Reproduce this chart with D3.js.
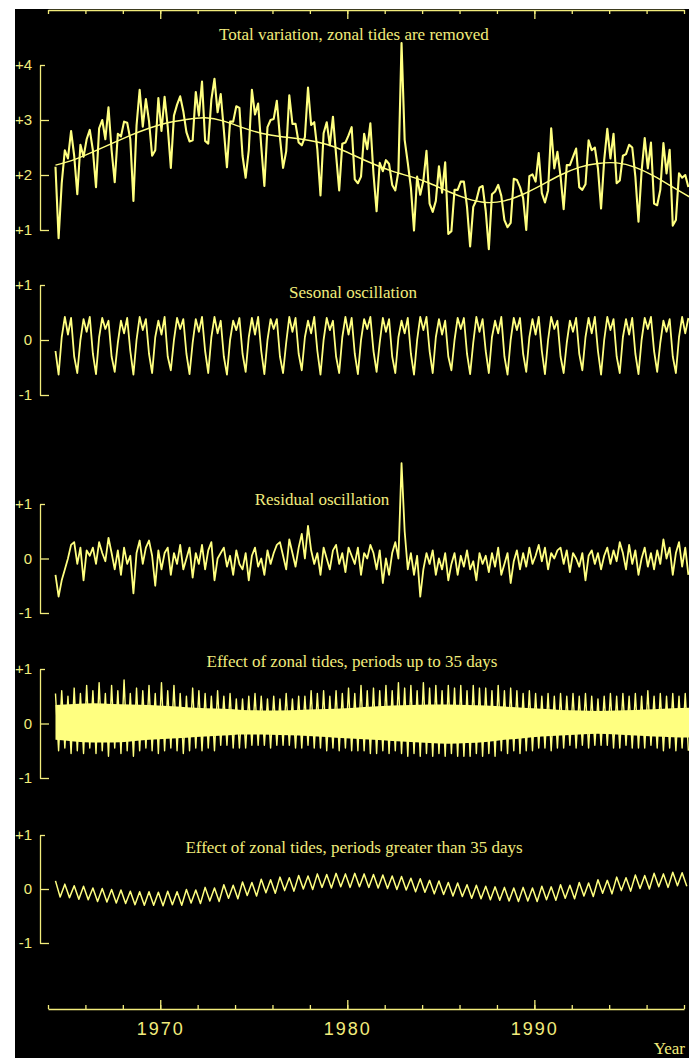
<!DOCTYPE html>
<html>
<head>
<meta charset="utf-8">
<script src="https://cdn.jsdelivr.net/npm/d3@7"></script>
<style>
  body { margin: 0; background: #ffffff; }
</style>
</head>
<body>
<div id="canvas"></div>
<script>
// time base of the sampled series (decimal years)
var startYear = 1964.4;

// x axis ticks
var yearTicks = [1964, 1966, 1968, 1970, 1972, 1974, 1976, 1978, 1980, 1982, 1984, 1986, 1988, 1990, 1992, 1994, 1996, 1998];
var labelledYears = [1970, 1980, 1990];

var panelTitles = [
	"Total variation, zonal tides are removed",
	"Sesonal oscillation",
	"Residual oscillation",
	"Effect of zonal tides, periods up to 35 days",
	"Effect of zonal tides, periods greater than 35 days"
];
var panelTicks = [[1, 2, 3, 4], [-1, 0, 1], [-1, 0, 1], [-1, 0, 1], [-1, 0, 1]];
var panelDomains = [[1, 4], [-1, 1], [-1, 1], [-1, 1], [-1, 1]];

// panel 1, six samples per year
var totalVariation = [
	2.15,0.85,1.85,2.45,2.3,2.8, 2.35,1.65,2.55,2.33,2.65,2.82, 2.45,1.78,2.85,3.0,2.65,3.23,
	2.45,1.87,2.75,2.7,2.97,2.95, 2.65,1.53,2.9,3.55,2.88,3.38, 2.98,2.35,2.45,3.4,2.8,3.42,
	2.88,2.13,3.08,3.28,3.43,3.16, 2.78,2.61,2.63,3.51,3.08,3.7, 2.62,2.57,3.37,3.75,3.14,3.47,
	2.82,2.14,2.97,2.97,3.25,3.22, 2.35,1.95,2.45,3.55,3.1,3.3, 2.52,1.8,2.87,3.0,3.02,3.35,
	2.68,2.13,2.43,3.45,2.93,2.93, 2.59,2.54,2.69,3.59,2.91,2.96, 2.46,1.63,2.76,2.96,2.54,3.06,
	2.37,1.72,2.57,2.59,2.72,2.87, 1.92,1.85,1.97,2.75,2.47,2.94, 2.02,1.34,2.22,2.07,2.27,2.2,
	1.82,1.72,2.07,4.4,2.64,2.22, 1.77,0.99,1.97,1.64,1.9,2.44, 1.48,1.33,1.53,2.16,1.68,2.23,
	0.93,0.98,1.73,1.73,1.88,1.88, 1.42,0.7,1.42,1.54,1.77,1.8, 1.35,0.65,1.65,1.7,1.82,1.62,
	1.18,1.05,1.13,1.93,1.91,1.78, 1.58,1.0,1.98,2.01,1.88,2.4, 1.67,1.5,1.72,2.85,2.12,2.42,
	1.98,1.38,2.18,2.18,2.33,2.48, 1.78,1.73,1.83,2.63,2.45,2.5, 2.12,1.39,2.27,2.84,2.3,2.75,
	1.85,1.9,2.35,2.38,2.55,2.5, 1.97,1.15,2.07,2.67,2.12,2.59, 1.48,1.45,1.73,2.58,2.03,2.46,
	1.08,1.18,2.03,1.95,2.0,1.78
];

// panel 1 smooth trend, one value per year
var smoothTrend = [
	2.18, 2.28, 2.42, 2.57, 2.72, 2.85, 2.95, 3.01, 3.04, 2.98, 2.86, 2.76, 2.7, 2.66, 2.6, 2.5, 2.35, 2.2,
	2.07, 1.97, 1.85, 1.7, 1.57, 1.5, 1.53, 1.65, 1.82, 2.0, 2.14, 2.21, 2.22, 2.14, 1.98, 1.78, 1.58
];

// panel 2, six samples per year
var seasonal = [
	-0.2,-0.63,0.05,0.42,0.1,0.4, -0.3,-0.6,0.0,0.38,0.15,0.42, -0.25,-0.62,0.05,0.4,0.2,0.35,
	-0.3,-0.58,-0.05,0.35,0.12,0.4, -0.2,-0.63,0.0,0.42,0.18,0.38, -0.25,-0.6,0.05,0.35,0.1,0.42,
	-0.3,-0.55,0.0,0.4,0.2,0.38, -0.25,-0.62,-0.05,0.38,0.15,0.42, -0.2,-0.6,0.05,0.42,0.12,0.35,
	-0.3,-0.63,0.0,0.35,0.18,0.4, -0.25,-0.58,0.05,0.4,0.1,0.42, -0.2,-0.62,0.0,0.38,0.2,0.38,
	-0.3,-0.6,-0.05,0.42,0.15,0.4, -0.25,-0.55,0.05,0.35,0.12,0.42, -0.2,-0.63,0.0,0.4,0.18,0.35,
	-0.3,-0.6,0.05,0.42,0.1,0.4, -0.25,-0.62,0.0,0.38,0.2,0.42, -0.2,-0.58,-0.05,0.4,0.15,0.38,
	-0.3,-0.6,0.05,0.35,0.12,0.4, -0.25,-0.63,0.0,0.42,0.18,0.42, -0.2,-0.6,0.05,0.38,0.1,0.35,
	-0.3,-0.55,0.0,0.4,0.2,0.4, -0.25,-0.62,-0.05,0.42,0.15,0.38, -0.2,-0.6,0.05,0.35,0.12,0.42,
	-0.3,-0.63,0.0,0.4,0.18,0.4, -0.25,-0.58,0.05,0.38,0.1,0.42, -0.2,-0.62,0.0,0.42,0.2,0.35,
	-0.3,-0.6,-0.05,0.35,0.15,0.4, -0.25,-0.55,0.05,0.4,0.12,0.42, -0.2,-0.63,0.0,0.42,0.18,0.38,
	-0.3,-0.6,0.05,0.38,0.1,0.4, -0.25,-0.62,0.0,0.4,0.2,0.42, -0.2,-0.58,-0.05,0.35,0.15,0.38,
	-0.3,-0.6,0.05,0.42,0.12,0.4
];

// panel 3, six samples per year
var residual = [
	-0.3,-0.7,-0.4,-0.2,0.0,0.25, 0.3,-0.1,0.2,-0.4,0.15,0.05, 0.2,-0.1,0.3,0.1,-0.05,0.38,
	0.1,-0.2,0.15,-0.3,0.2,-0.1, 0.05,-0.64,0.1,0.33,-0.1,0.2, 0.33,0.05,-0.5,0.15,-0.2,0.1,
	0.2,-0.3,0.1,-0.1,0.25,-0.2, 0.0,0.2,-0.35,0.1,-0.1,0.25, -0.2,0.15,0.3,-0.4,0.0,0.1,
	0.2,-0.15,0.05,-0.3,0.15,-0.1, -0.2,0.1,-0.4,0.05,0.2,-0.15, 0.0,-0.3,0.15,-0.1,0.1,0.25,
	0.3,0.05,-0.2,0.35,0.1,-0.15, 0.2,0.45,0.0,0.6,0.15,-0.1, 0.1,-0.3,0.2,0.0,-0.2,0.15,
	0.25,-0.1,0.1,-0.25,0.2,0.05, -0.1,0.2,-0.3,0.1,0.0,0.25, 0.1,-0.2,0.15,-0.45,0.0,-0.3,
	0.1,0.3,0.0,1.75,0.5,-0.2, 0.1,-0.3,0.05,-0.7,-0.2,0.1, -0.1,0.15,-0.3,0.0,-0.2,0.1,
	-0.4,-0.1,0.1,-0.3,0.05,-0.15, 0.15,-0.2,-0.05,-0.4,0.1,-0.1, 0.05,-0.25,0.1,-0.15,0.2,-0.3,
	-0.1,0.1,-0.45,-0.05,0.15,-0.2, 0.1,-0.15,0.2,-0.1,0.05,0.25, -0.05,0.2,-0.2,0.1,0.0,0.15,
	0.2,-0.1,0.15,-0.25,0.1,0.0, -0.15,0.1,-0.4,0.05,0.15,-0.1, 0.1,-0.2,0.05,0.2,-0.1,0.15,
	-0.05,0.3,0.1,-0.2,0.25,-0.1, 0.15,-0.3,0.0,0.2,-0.15,0.1, -0.2,0.15,-0.1,0.35,0.0,0.2,
	-0.3,0.1,0.3,-0.15,0.2,-0.3
];

// panel 4: dense core of the short period tides (one value per year) and its spikes (six per year)
var tideCoreUpper = [
	0.34, 0.36, 0.37, 0.36, 0.35, 0.34, 0.32, 0.3, 0.28, 0.27, 0.25, 0.24, 0.24, 0.25, 0.26, 0.27, 0.29, 0.31,
	0.33, 0.34, 0.35, 0.35, 0.34, 0.33, 0.31, 0.29, 0.27, 0.25, 0.24, 0.23, 0.24, 0.25, 0.26, 0.28, 0.29
];
var tideCoreLower = [
	-0.3, -0.33, -0.35, -0.35, -0.33, -0.3, -0.28, -0.26, -0.24, -0.22, -0.2, -0.2, -0.21, -0.22, -0.24, -0.26, -0.28, -0.3,
	-0.32, -0.34, -0.36, -0.37, -0.36, -0.34, -0.3, -0.27, -0.24, -0.22, -0.2, -0.19, -0.2, -0.22, -0.24, -0.25, -0.26
];
var shortTides = [
	0.55,-0.5,0.6,-0.45,0.5,-0.55, 0.65,-0.5,0.55,-0.55,0.7,-0.45, 0.6,-0.55,0.75,-0.5,0.55,-0.6,
	0.7,-0.45,0.6,-0.55,0.8,-0.5, 0.55,-0.6,0.65,-0.5,0.6,-0.45, 0.7,-0.5,0.55,-0.55,0.75,-0.5,
	0.6,-0.45,0.7,-0.5,0.55,-0.55, 0.5,-0.5,0.65,-0.45,0.6,-0.5, 0.55,-0.45,0.5,-0.5,0.6,-0.4,
	0.5,-0.4,0.55,-0.45,0.45,-0.45, 0.45,-0.45,0.5,-0.4,0.55,-0.4, 0.5,-0.4,0.45,-0.45,0.5,-0.4,
	0.45,-0.4,0.55,-0.4,0.45,-0.45, 0.5,-0.45,0.5,-0.4,0.6,-0.45, 0.55,-0.45,0.6,-0.5,0.5,-0.45,
	0.6,-0.5,0.55,-0.45,0.65,-0.5, 0.55,-0.5,0.7,-0.5,0.6,-0.55, 0.65,-0.55,0.6,-0.5,0.7,-0.55,
	0.6,-0.5,0.75,-0.55,0.65,-0.6, 0.7,-0.55,0.6,-0.6,0.75,-0.55, 0.65,-0.6,0.7,-0.55,0.6,-0.6,
	0.7,-0.55,0.65,-0.6,0.7,-0.6, 0.6,-0.6,0.7,-0.55,0.65,-0.6, 0.65,-0.55,0.6,-0.6,0.7,-0.5,
	0.6,-0.55,0.65,-0.5,0.6,-0.55, 0.55,-0.5,0.6,-0.5,0.55,-0.45, 0.5,-0.45,0.55,-0.5,0.5,-0.45,
	0.55,-0.45,0.5,-0.4,0.55,-0.45, 0.5,-0.4,0.55,-0.45,0.5,-0.4, 0.45,-0.4,0.5,-0.4,0.55,-0.45,
	0.5,-0.45,0.55,-0.4,0.5,-0.45, 0.55,-0.45,0.5,-0.45,0.6,-0.4, 0.5,-0.45,0.55,-0.5,0.5,-0.45,
	0.55,-0.5,0.5,-0.45,0.55,-0.5
];

// panel 5, four samples per year (peaks and troughs)
var longTides = [
	0.15,-0.15,0.09,-0.16, 0.06,-0.19,0.05,-0.2, 0.02,-0.23,0.01,-0.24, -0.01,-0.26,-0.02,-0.27,
	-0.04,-0.29,-0.05,-0.3, -0.05,-0.3,-0.06,-0.31, -0.04,-0.29,-0.05,-0.3, -0.01,-0.26,-0.02,-0.27,
	0.03,-0.22,0.02,-0.23, 0.08,-0.17,0.07,-0.18, 0.13,-0.12,0.12,-0.13, 0.18,-0.07,0.17,-0.08,
	0.22,-0.03,0.21,-0.04, 0.25,0.0,0.24,-0.01, 0.28,0.03,0.27,0.02, 0.29,0.04,0.28,0.03,
	0.29,0.04,0.28,0.03, 0.27,0.02,0.26,0.01, 0.24,-0.01,0.23,-0.02, 0.2,-0.05,0.19,-0.06,
	0.16,-0.09,0.15,-0.1, 0.12,-0.13,0.11,-0.14, 0.08,-0.17,0.07,-0.18, 0.05,-0.2,0.04,-0.21,
	0.03,-0.22,0.02,-0.23, 0.03,-0.22,0.02,-0.23, 0.05,-0.2,0.04,-0.21, 0.08,-0.17,0.07,-0.18,
	0.12,-0.13,0.11,-0.14, 0.17,-0.08,0.16,-0.09, 0.22,-0.03,0.21,-0.04, 0.26,0.01,0.25,0.0,
	0.29,0.04,0.28,0.03, 0.31,0.06,0.3,0.05
];

// layout
var width = 689, height = 1058;
var lineColor = "#ffff80", axisColor = "#f2ec7c";
var panelRanges = [[230, 65], [395, 285], [613, 504], [778, 669], [943, 835]];
var titlePos = [[354, 40], [353, 298], [322, 505], [352, 667], [354, 853]];

function drawChart() {
	var svg = d3.select("#canvas")
		.append("svg")
		.attr("width", width)
		.attr("height", height)
		.style("display", "block");

	// white page with the black plotting sheet
	svg.append("rect").attr("width", width).attr("height", height).attr("fill", "#ffffff");
	svg.append("rect").attr("x", 15).attr("y", 9).attr("width", width - 15).attr("height", height - 9).attr("fill", "#000000");

	var x = d3.scaleLinear().domain([1964, 1998]).range([48, 684]);

	// top and bottom time axes
	addTimeAxis(svg, x, 10, 1, false);
	addTimeAxis(svg, x, 1009, -1, true);

	svg.append("text")
		.attr("x", 685).attr("y", 1054)
		.attr("text-anchor", "end")
		.style("font-family", "'Liberation Serif', serif")
		.style("font-size", "17px")
		.attr("fill", axisColor)
		.text("Year");

	var ys = panelRanges.map(function(r, i) {
		return d3.scaleLinear().domain(panelDomains[i]).range(r);
	});

	for (var i = 0; i < 5; i++) {
		addValueAxis(svg, ys[i], panelTicks[i]);
		svg.append("text")
			.attr("x", titlePos[i][0]).attr("y", titlePos[i][1])
			.attr("text-anchor", "middle")
			.style("font-family", "'Liberation Serif', serif")
			.style("font-size", "17px")
			.attr("fill", axisColor)
			.text(panelTitles[i]);
	}

	// panel 4 core band goes below its spikes
	var yearly = function(d, i) { return x(startYear + i); };
	svg.append("path")
		.datum(tideCoreUpper)
		.attr("fill", lineColor)
		.attr("d", d3.area()
			.x(yearly)
			.y0(function(d, i) { return ys[3](tideCoreLower[i]); })
			.y1(function(d) { return ys[3](d); })
			.curve(d3.curveMonotoneX));

	addSeries(svg, x, ys[0], totalVariation, 6, 2.1);
	addSeries(svg, x, ys[0], smoothTrend, 1, 1.4, d3.curveNatural);
	addSeries(svg, x, ys[1], seasonal, 6, 1.8);
	addSeries(svg, x, ys[2], residual, 6, 1.8);
	addSeries(svg, x, ys[3], shortTides, 6, 1.4);
	addSeries(svg, x, ys[4], longTides, 4, 1.5);
}

// line for an evenly sampled series
function addSeries(svg, x, y, values, perYear, strokeWidth, curve) {
	svg.append("path")
		.datum(values)
		.attr("fill", "none")
		.attr("stroke", lineColor)
		.attr("stroke-width", strokeWidth)
		.attr("stroke-linejoin", "round")
		.attr("d", d3.line()
			.x(function(d, i) { return x(startYear + i / perYear); })
			.y(function(d) { return y(d); })
			.curve(curve || d3.curveLinear));
}

// time axis, dir 1 = ticks hanging down, -1 = ticks standing up
function addTimeAxis(svg, x, yPos, dir, withLabels) {
	var minor = svg.append("g")
		.attr("transform", "translate(0," + yPos + ")")
		.call(d3.axisBottom(x).tickValues(yearTicks).tickSize(4 * dir).tickSizeOuter(0).tickFormat(""));
	var major = svg.append("g")
		.attr("transform", "translate(0," + yPos + ")")
		.call(d3.axisBottom(x).tickValues(labelledYears).tickSize(9 * dir).tickSizeOuter(0)
			.tickPadding(13).tickFormat(d3.format("d")));
	major.select(".domain").remove();
	[minor, major].forEach(function(g) {
		g.selectAll("path, line").attr("stroke", axisColor).attr("stroke-width", 1.3);
	});
	major.selectAll("text")
		.attr("fill", axisColor)
		.style("font-family", "'Liberation Sans', sans-serif")
		.style("font-size", "18px")
		.style("letter-spacing", "2px")
		.style("display", withLabels ? null : "none");
}

// bracket shaped value axis with labels on the left
function addValueAxis(svg, y, ticks) {
	var hi = d3.max(ticks);
	var g = svg.append("g")
		.attr("transform", "translate(40,0)")
		.call(d3.axisLeft(y).tickValues(ticks).tickSize(-9).tickSizeOuter(0).tickPadding(8)
			.tickFormat(function(d) { return d > 0 ? "+" + d : d < 0 ? "-" + Math.abs(d) : "0"; }));
	g.selectAll(".tick line")
		.attr("x2", function(d) { return (d === hi) ? 5 : 9; });
	g.selectAll("path, line").attr("stroke", axisColor).attr("stroke-width", 1.3);
	g.selectAll("text")
		.attr("fill", axisColor)
		.style("font-family", "'Liberation Sans', sans-serif")
		.style("font-size", "15px");
}

drawChart();
</script>
</body>
</html>
